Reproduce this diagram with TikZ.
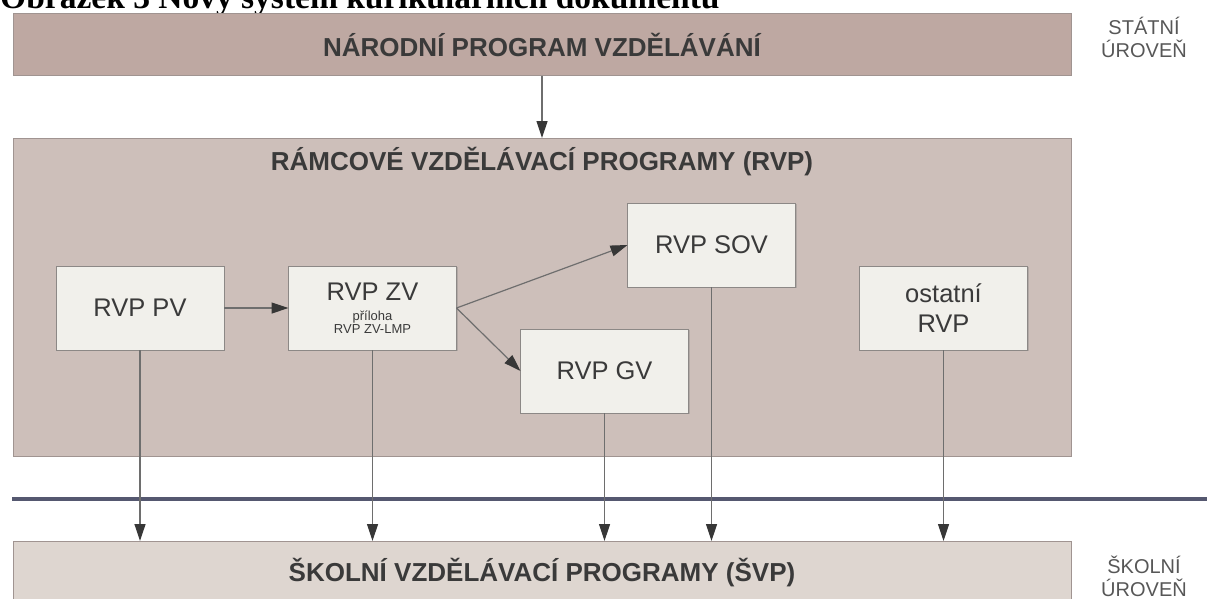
\documentclass[tikz,border=0pt]{standalone}
\usepackage{fontspec}
\setmainfont{Liberation Sans}
\newfontfamily\capfont{Liberation Serif}
\usetikzlibrary{arrows.meta,shadows}

\definecolor{narodnifill}{RGB}{190,168,162}
\definecolor{rvpfill}{RGB}{205,191,186}
\definecolor{svpfill}{RGB}{222,214,208}
\definecolor{boxfill}{RGB}{241,240,235}
\definecolor{boxedge}{RGB}{140,136,134}
\definecolor{bandedge}{RGB}{160,148,145}
\definecolor{linegray}{RGB}{110,110,110}
\definecolor{tipgray}{RGB}{55,55,55}
\definecolor{divider}{RGB}{85,88,112}
\definecolor{labelgray}{RGB}{58,58,58}

\begin{document}
\begin{tikzpicture}[x=1pt, y=-1pt,
  band/.style={draw=bandedge, line width=0.8pt, minimum width=1058pt, inner sep=0pt, outer sep=0pt,
    text=labelgray, font=\bfseries\fontsize{26}{30}\selectfont},
  rvpbox/.style={draw=boxedge, fill=boxfill, line width=0.8pt, minimum width=168pt, minimum height=84pt,
    inner sep=0pt, outer sep=0pt, align=center, text=labelgray, font=\fontsize{25.5}{30}\selectfont,
    drop shadow={shadow xshift=1.2pt, shadow yshift=-1.2pt, opacity=0.35}},
  conn/.style={draw=linegray, line width=1.2pt, -{Triangle[length=17pt, width=11pt, color=tipgray]}},
  levelnote/.style={align=center, text=labelgray!85, font=\fontsize{20}{23}\selectfont}]
  \useasboundingbox (0,0) rectangle (1207,598);
  \clip (0,0) rectangle (1207,598);

  \node (caption) [anchor=base west, inner sep=0pt, font=\capfont\bfseries\fontsize{33.5}{36}\selectfont] at (0,8) {Obrázek 3 Nový systém kurikulárních dokumentů};

  \node (narodni) [band, fill=narodnifill, minimum height=62pt] at (542,44.5) {NÁRODNÍ PROGRAM VZDĚLÁVÁNÍ};
  \node (rvp) [band, fill=rvpfill, minimum height=318pt] at (542,297) {};
  \node (rvp-title) [text=labelgray, font=\bfseries\fontsize{26}{30}\selectfont] at (542,162) {RÁMCOVÉ VZDĚLÁVACÍ PROGRAMY (RVP)};
  \node (svp) [band, fill=svpfill, minimum height=64pt] at (542,573) {ŠKOLNÍ VZDĚLÁVACÍ PROGRAMY (ŠVP)};

  \node (rvp-pv) [rvpbox] at (140,308) {RVP PV};
  \node (rvp-zv) [rvpbox] at (372.5,308) {RVP ZV\\[-10pt]\fontsize{13}{14}\selectfont příloha\\[-17pt]\fontsize{13}{14}\selectfont RVP ZV-LMP};
  \node (rvp-sov) [rvpbox] at (711.5,245) {RVP SOV};
  \node (rvp-gv) [rvpbox] at (604.5,371) {RVP GV};
  \node (rvp-ost) [rvpbox] at (943.5,308) {ostatní\\RVP};

  \node (statni) [levelnote] at (1144,37) {STÁTNÍ\\ÚROVEŇ};
  \node (skolni) [levelnote] at (1144,576) {ŠKOLNÍ\\ÚROVEŇ};

  \draw[divider, line width=3.5pt] (12,499) -- (1207,499);

  \draw[conn] (narodni) to (rvp);
  \draw[conn] (rvp-pv) to (rvp-zv);
  \draw[conn] (rvp-zv.east) to (rvp-sov.west);
  \draw[conn] (rvp-zv.east) to (rvp-gv.west);

  \draw[conn] (rvp-pv) to (rvp-pv |- svp.north);
  \draw[conn] (rvp-zv) to (rvp-zv |- svp.north);
  \draw[conn] (rvp-gv) to (rvp-gv |- svp.north);
  \draw[conn] (rvp-sov) to (rvp-sov |- svp.north);
  \draw[conn] (rvp-ost) to (rvp-ost |- svp.north);
\end{tikzpicture}
\end{document}
